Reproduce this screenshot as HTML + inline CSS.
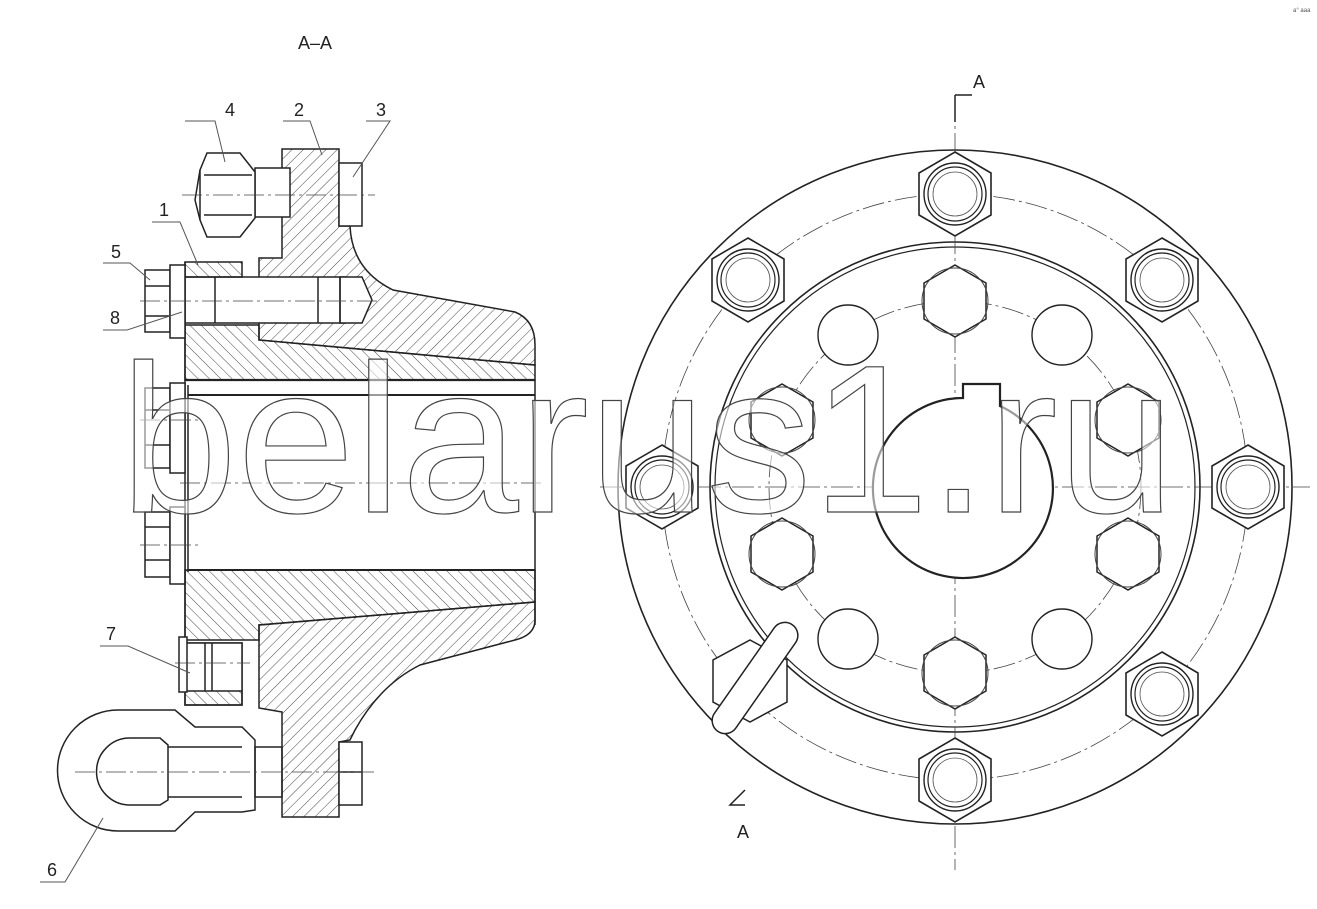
<!DOCTYPE html>
<html><head><meta charset="utf-8"><style>
html,body{margin:0;padding:0;background:#fff;}
svg{display:block;font-family:"Liberation Sans",sans-serif;}
</style></head><body>
<svg width="1317" height="909" viewBox="0 0 1317 909" xmlns="http://www.w3.org/2000/svg">
<defs>
<pattern id="h1" patternUnits="userSpaceOnUse" width="8" height="8" patternTransform="rotate(45)"><line x1="0" y1="0" x2="0" y2="8" stroke="#333" stroke-width="0.9"/></pattern>
<pattern id="h2" patternUnits="userSpaceOnUse" width="8" height="8" patternTransform="rotate(-45)"><line x1="0" y1="0" x2="0" y2="8" stroke="#333" stroke-width="0.9"/></pattern>
<g id="ob">
<polygon points="0,-42 36,-21 36,21 0,42 -36,21 -36,-21" fill="#fff" stroke="#222" stroke-width="1.6"/>
<circle r="31" fill="none" stroke="#222" stroke-width="1.4"/>
<circle r="27" fill="none" stroke="#222" stroke-width="1.2"/>
<circle r="22" fill="none" stroke="#555" stroke-width="0.8"/>
</g>
<g id="ihx">
<polygon points="0,-36 31,-18 31,18 0,36 -31,18 -31,-18" fill="#fff" stroke="#222" stroke-width="1.5"/>
<circle r="33" fill="none" stroke="#444" stroke-width="1"/>
</g>
<g id="ic"><circle r="30" fill="#fff" stroke="#222" stroke-width="1.4"/></g>
</defs>
<g fill="none" stroke="#222" stroke-width="1.5">
<path d="M282,149 L339,149 L339,226 L350,226 Q352,270 393,290 L515,312 Q535,320 535,345 L535,365 L259,340 L259,258 L282,258 Z" fill="url(#h1)"/>
<rect x="185" y="277" width="160" height="46" fill="#fff"/>
<polygon points="340,277 362,277 372,300 362,323 340,323" fill="#fff"/>
<line x1="215" y1="277" x2="215" y2="323"/><line x1="318" y1="277" x2="318" y2="323"/><line x1="340" y1="277" x2="340" y2="323"/>
<path d="M185,325 L259,325 L259,340 L535,365 L535,380 L185,380 Z" fill="url(#h2)"/>
<rect x="185" y="262" width="57" height="15" fill="url(#h2)"/>
<line x1="185" y1="262" x2="185" y2="380"/>
<rect x="339" y="163" width="23" height="63" fill="#fff"/>
<rect x="255" y="168" width="35" height="49" fill="#fff"/>
<path d="M207,153 L240,153 L255,172 L255,218 L240,237 L207,237 L200,220 L200,170 Z" fill="#fff"/>
<line x1="204" y1="175" x2="252" y2="175"/><line x1="204" y1="215" x2="252" y2="215"/>
<path d="M200,170 L195,200 L200,220"/>
<rect x="145" y="270" width="25" height="62" fill="#fff"/>
<rect x="170" y="265" width="15" height="73" fill="#fff"/>
<line x1="145" y1="286" x2="170" y2="286"/><line x1="145" y1="316" x2="170" y2="316"/>
<line x1="185" y1="380" x2="535" y2="380" stroke-width="2.2"/>
<line x1="188" y1="395" x2="535" y2="395" stroke-width="2"/>
<line x1="188" y1="570" x2="535" y2="570" stroke-width="2"/>
<line x1="188" y1="385" x2="188" y2="572"/>
<line x1="185" y1="380" x2="185" y2="640"/>
<line x1="535" y1="380" x2="535" y2="625"/>
<rect x="145" y="388" width="25" height="80" fill="#fff"/><rect x="170" y="383" width="15" height="90" fill="#fff"/>
<line x1="145" y1="410" x2="170" y2="410"/><line x1="145" y1="445" x2="170" y2="445"/>
<rect x="145" y="512" width="25" height="65" fill="#fff"/><rect x="170" y="507" width="15" height="77" fill="#fff"/>
<line x1="145" y1="527" x2="170" y2="527"/><line x1="145" y1="560" x2="170" y2="560"/>
<path d="M185,570 L535,570 L535,602 L259,625 L259,640 L185,640 Z" fill="url(#h2)"/>
<rect x="185" y="643" width="57" height="62" fill="url(#h2)"/>
<rect x="185" y="643" width="57" height="48" fill="#fff" stroke="none"/>
<rect x="185" y="643" width="57" height="62"/>
<line x1="185" y1="691" x2="242" y2="691"/>
<rect x="179" y="637" width="8" height="55" fill="#fff"/>
<line x1="205" y1="643" x2="205" y2="691"/><line x1="212" y1="643" x2="212" y2="691"/>
<path d="M259,625 L535,602 L535,620 Q535,635 515,640 L420,665 Q380,685 355,730 L350,740 L339,742 L339,817 L282,817 L282,712 L259,708 Z" fill="url(#h1)"/>
<rect x="339" y="742" width="23" height="63" fill="#fff"/>
<line x1="339" y1="772" x2="362" y2="772"/>
<path d="M118,710 L175,710 L195,727 L242,727 L255,740 L255,810 L242,812 L195,812 L175,831 L118,831 A60,60 0 0 1 118,710 Z" fill="#fff"/>
<path d="M130,738 L160,738 L168,745 L168,800 L160,805 L130,805 A33,33 0 0 1 130,738 Z"/>
<line x1="168" y1="747" x2="242" y2="747"/><line x1="168" y1="797" x2="242" y2="797"/>
<rect x="255" y="747" width="27" height="50"/>
<g stroke="#444" stroke-width="0.8" stroke-dasharray="20,4,3,4">
<line x1="182" y1="195" x2="375" y2="195"/><line x1="140" y1="301" x2="380" y2="301"/>
<line x1="140" y1="420" x2="200" y2="420"/><line x1="140" y1="545" x2="200" y2="545"/>
<line x1="175" y1="663" x2="250" y2="663"/><line x1="75" y1="772" x2="378" y2="772"/>
<line x1="180" y1="483" x2="545" y2="483"/>
</g>
<circle cx="955" cy="487" r="337" stroke-width="1.6"/>
<circle cx="955" cy="487" r="245" stroke-width="1.6"/>
<circle cx="955" cy="487" r="240" stroke-width="1.2"/>
<g stroke="#444" stroke-width="0.8" stroke-dasharray="22,4,3,4">
<circle cx="955" cy="487" r="293"/><circle cx="955" cy="487" r="186"/>
<line x1="955" y1="100" x2="955" y2="870"/><line x1="600" y1="487" x2="1310" y2="487"/>
</g>
<use href="#ob" x="955" y="194"/><use href="#ob" x="1162" y="280"/><use href="#ob" x="1248" y="487"/>
<use href="#ob" x="1162" y="694"/><use href="#ob" x="955" y="780"/><use href="#ob" x="748" y="280"/><use href="#ob" x="662" y="487"/>
<use href="#ihx" x="955" y="301"/><use href="#ihx" x="955" y="673"/>
<use href="#ihx" x="782" y="420"/><use href="#ihx" x="1128" y="420"/><use href="#ihx" x="782" y="554"/><use href="#ihx" x="1128" y="554"/>
<use href="#ic" x="848" y="335"/><use href="#ic" x="1062" y="335"/><use href="#ic" x="848" y="639"/><use href="#ic" x="1062" y="639"/>
<path d="M963,398 A90,90 0 1 0 1000,406 L1000,384 L963,384 Z" fill="#fff" stroke-width="2.2"/>
<polygon points="750,640 787,660 787,702 750,722 713,702 713,660" fill="#fff"/>
<rect x="690" y="665" width="130" height="26" rx="13" transform="rotate(-55 755 678)" fill="#fff"/>
<path d="M955,95 L955,122 M955,95 L972,95" stroke-width="1.5"/>
<path d="M745,790 L730,805 L745,805" stroke-width="1.5"/>
</g>
<text x="120" y="512" font-size="211" textLength="1055" lengthAdjust="spacingAndGlyphs" fill="#fff" fill-opacity="0.55" stroke="#444" stroke-width="1.2">belarus1.ru</text>
<g font-size="18" fill="#222">
<text x="298" y="49">A–A</text>
<text x="973" y="88">A</text><text x="737" y="838">A</text>
<text x="225" y="116">4</text><text x="294" y="116">2</text><text x="376" y="116">3</text>
<text x="159" y="216">1</text><text x="111" y="258">5</text><text x="110" y="324">8</text>
<text x="106" y="640">7</text><text x="47" y="876">6</text>
</g>
<text x="1293" y="12" font-size="6" fill="#555">a° aaa</text>
<g stroke="#555" stroke-width="1" fill="none">
<path d="M185,121 L215,121 L225,162"/><path d="M283,121 L310,121 L322,155"/><path d="M366,121 L390,121 L353,177"/>
<path d="M152,222 L180,222 L198,265"/><path d="M103,263 L130,263 L150,280"/><path d="M103,330 L127,330 L182,312"/>
<path d="M100,646 L128,646 L190,673"/><path d="M40,882 L65,882 L103,818"/>
</g>
</svg>
</body></html>
